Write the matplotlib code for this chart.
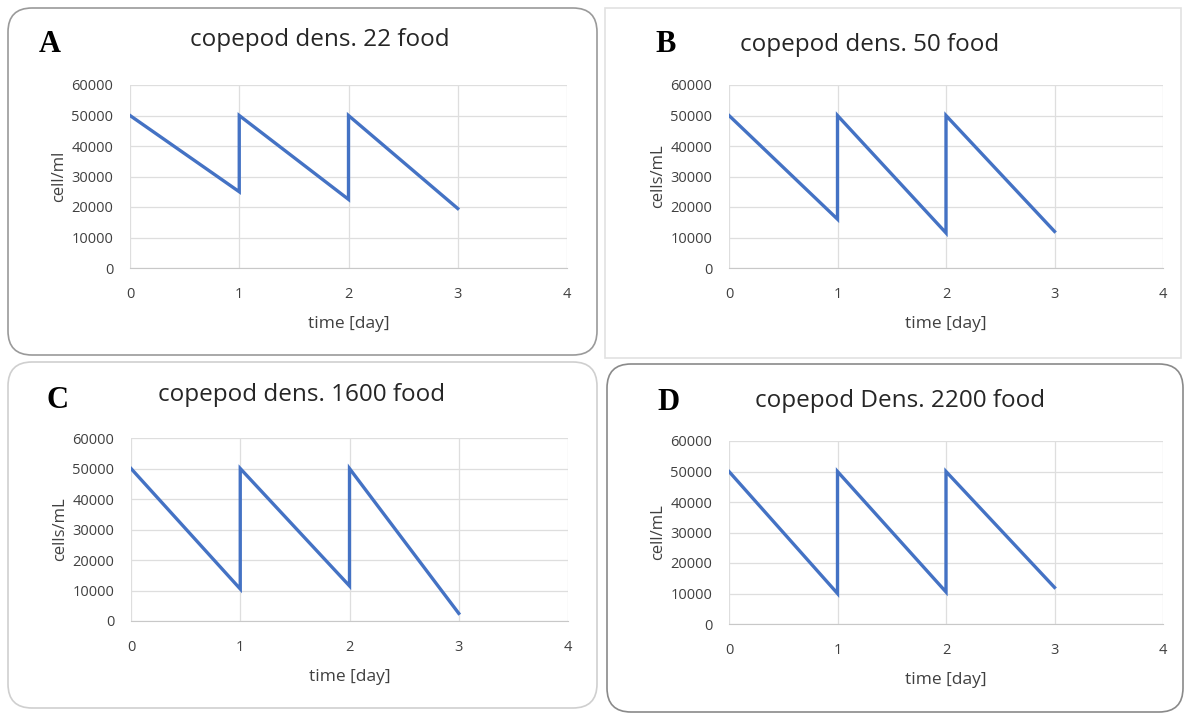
import numpy as np
import matplotlib
matplotlib.use("Agg")
import matplotlib.pyplot as plt
from matplotlib.patches import FancyBboxPatch
from matplotlib.transforms import Affine2D

W, H = 1187, 714

# data
days = [0, 1, 1, 2, 2, 3]
cells_a = [50000, 25000, 50000, 22500, 50000, 19500]
cells_b = [50000, 16000, 50000, 11500, 50000, 12000]
cells_c = [50000, 10500, 50000, 11500, 50000, 2500]
cells_d = [50000, 10000, 50000, 10500, 50000, 12000]

letters = ["A", "B", "C", "D"]
titles = ["copepod dens. 22 food", "copepod dens. 50 food",
          "copepod dens. 1600 food", "copepod Dens. 2200 food"]
ylabels = ["cell/ml", "cells/mL", "cells/mL", "cell/mL"]
series = [cells_a, cells_b, cells_c, cells_d]

# layout in pixels (top-left origin): panel box, plot area, title/letter positions
boxes = [(8, 8, 597, 355, True, "#9a9a9a"),
         (605, 8, 1181, 358, False, "#e2e2e2"),
         (8, 362, 597, 708, True, "#cfcfcf"),
         (607, 364, 1183, 712, True, "#8a8a8a")]
plots = [(130, 85, 567, 268), (729, 85, 1163, 268),
         (131, 438, 568, 621), (729, 441, 1163, 624)]
title_pos = [(320, 40), (870, 45), (302, 395), (900, 401)]
letter_pos = [(50, 45), (666, 45), (58, 400), (668, 403)]

plt.rcParams['font.family'] = ['Open Sans', 'DejaVu Sans']
fig = plt.figure(figsize=(W / 100, H / 100), dpi=100)
pix = Affine2D().scale(1 / W, 1 / H) + fig.transFigure

for i in range(4):
    x0, y0, x1, y1, rounded, ec = boxes[i]
    style = "round,pad=0,rounding_size=24" if rounded else "square,pad=0"
    box = FancyBboxPatch((x0, H - y1), x1 - x0, y1 - y0, boxstyle=style,
                         transform=pix, fc="white", ec=ec, lw=1.2, zorder=-5)
    fig.patches.append(box)

    px0, py0, px1, py1 = plots[i]
    ax = fig.add_axes([px0 / W, 1 - py1 / H, (px1 - px0) / W, (py1 - py0) / H])
    ax.patch.set_alpha(0)
    ax.plot(days, series[i], color="#4472C4", lw=2.4, solid_joinstyle="miter")
    ax.set_xlim(0, 4)
    ax.set_ylim(0, 60000)
    ax.set_xticks(range(5))
    ax.set_yticks(range(0, 60001, 10000))
    ax.grid(True, color="#dedede", lw=0.9)
    ax.set_axisbelow(True)
    for s in ["top", "right", "left"]:
        ax.spines[s].set_visible(False)
    ax.spines["bottom"].set_color("#c8c8c8")
    ax.tick_params(length=0, labelsize=10.5, colors="#404040")
    ax.tick_params(axis="x", pad=14)
    ax.tick_params(axis="y", pad=12)
    ax.set_xlabel("time [day]", fontsize=12.5, color="#404040", labelpad=10)
    ax.set_ylabel(ylabels[i], fontsize=12, color="#404040", labelpad=3)

    tx, ty = title_pos[i]
    fig.text(tx / W, 1 - ty / H, titles[i], ha="center", va="center",
             fontsize=17.5, color="#262626")
    lx, ly = letter_pos[i]
    fig.text(lx / W, 1 - ly / H, letters[i], ha="center", va="center",
             fontsize=22, fontweight="bold", family="Liberation Serif", color="black")

fig.savefig("out.png", dpi=100)
